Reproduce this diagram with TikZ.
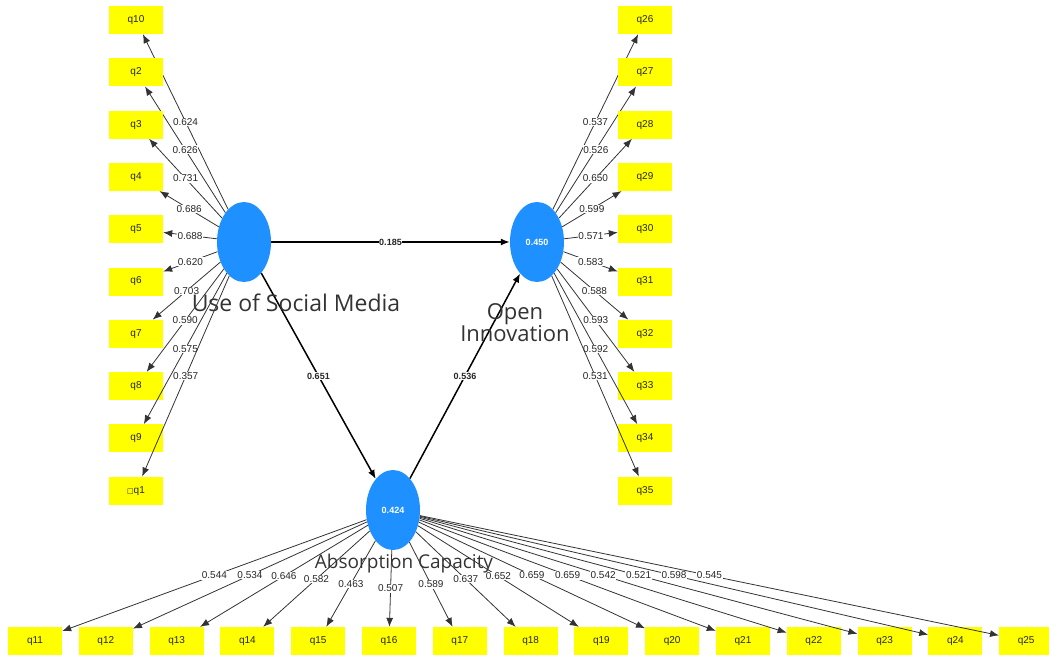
\documentclass[tikz,border=0pt]{standalone}
\usepackage{fontspec}
\setmainfont{Liberation Sans}
\newfontfamily\labelfont{Open Sans}
\newfontfamily\symfont{DejaVu Sans}
\usetikzlibrary{shapes.geometric,arrows.meta}
\definecolor{latentblue}{RGB}{30,144,255}
\definecolor{itemyellow}{RGB}{255,255,0}

\begin{document}
\begin{tikzpicture}[x=1pt,y=-1pt,>={Latex[length=9pt,width=7pt]}]
    \tikzstyle{indicator}=[rectangle,fill=itemyellow,minimum width=54pt,minimum height=28pt,inner sep=0pt,text=black!85,font=\fontsize{10}{10}\selectfont]
    \tikzstyle{latent}=[ellipse,fill=latentblue,minimum width=54pt,minimum height=80pt,inner sep=0pt,text=white,font=\bfseries\fontsize{9}{9}\selectfont]
    \tikzstyle{loading}=[->,draw=black!80,line width=0.8pt]
    \tikzstyle{structural}=[->,draw=black,line width=1.5pt]
    \tikzstyle{coef}=[fill=white,inner sep=0.6pt,text=black!85,font=\fontsize{10}{10}\selectfont]
    \tikzstyle{construct}=[text=black!80,align=center,inner sep=0pt]

    \useasboundingbox (0,0) rectangle (1049,657);

    % latent variables
    \node[latent] (USM) at (244,242) {};
    \node[latent] (OI) at (537,242) {0.450};
    \node[latent] (AC) at (393,510) {0.424};

    % Use of Social Media indicators (left column)
    \foreach \q/\w [count=\i] in {q10/0.624,q2/0.626,q3/0.731,q4/0.686,q5/0.688,
        q6/0.620,q7/0.703,q8/0.590,q9/0.575,{{\symfont\fontsize{7}{7}\selectfont □}q1}/0.357}
    {
    \node[indicator] (L-\i) at (136,{20+52.3*(\i-1)}) {\q};
    \draw[loading] (USM) -- node[coef] {\w} (L-\i);
    }

    % Open Innovation indicators (right column)
    \foreach \q/\w [count=\i] in {q26/0.537,q27/0.526,q28/0.650,q29/0.599,q30/0.571,
        q31/0.583,q32/0.588,q33/0.593,q34/0.592,q35/0.531}
    {
    \node[indicator] (R-\i) at (645,{20+52.3*(\i-1)}) {\q};
    \draw[loading] (OI) -- node[coef] {\w} (R-\i);
    }

    % Absorption Capacity indicators (bottom row)
    \foreach \q/\w [count=\i] in {q11/0.544,q12/0.534,q13/0.646,q14/0.582,q15/0.463,
        q16/0.507,q17/0.589,q18/0.637,q19/0.652,q20/0.659,q21/0.659,q22/0.542,
        q23/0.521,q24/0.598,q25/0.545}
    {
    \node[indicator] (B-\i) at ({35+70.8*(\i-1)},641) {\q};
    \draw[loading] (AC) -- node[coef] {\w} (B-\i);
    }

    % inner model
    \draw[structural] (USM) -- node[coef,font=\bfseries\fontsize{9}{9}\selectfont] {0.185} (OI);
    \draw[structural] (USM) -- node[coef,font=\bfseries\fontsize{9}{9}\selectfont] {0.651} (AC);
    \draw[structural] (AC) -- node[coef,font=\bfseries\fontsize{9}{9}\selectfont] {0.536} (OI);

    % construct names
    \node[construct,font=\labelfont\fontsize{23}{23}\selectfont] (USM-name) at (296,303) {Use of Social Media};
    \node[construct,font=\labelfont\fontsize{22}{22}\selectfont] (OI-name) at (515,323) {Open\\Innovation};
    \node[construct,font=\labelfont\fontsize{19}{19}\selectfont] (AC-name) at (404,564) {Absorption Capacity};
\end{tikzpicture}
\end{document}
